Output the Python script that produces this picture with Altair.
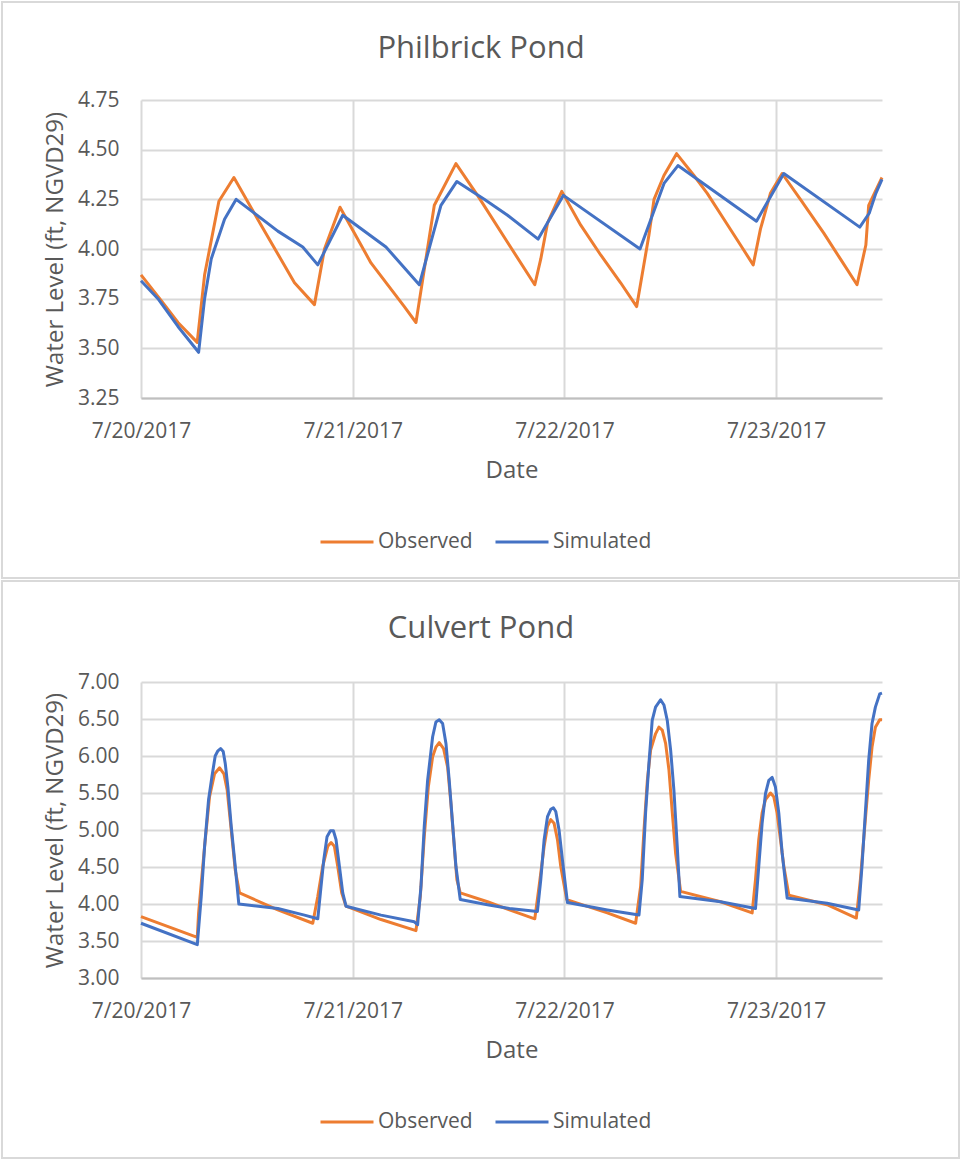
import altair as alt
import pandas as pd

START = pd.Timestamp("2017-07-20 00:00")
SERIES = ["Observed", "Simulated"]
COLORS = ["#ED7D31", "#4472C4"]
GREY_TEXT = "#595959"
FONT = "Open Sans"

# ---- Philbrick Pond: hours after 7/20/2017 00:00 and water level (ft) ----
phil_obs_h = [0.0, 2.30, 4.19, 6.37, 7.21, 8.83, 10.53, 13.62, 17.40, 19.66,
              20.80, 22.56, 26.07, 29.85, 31.17, 33.25, 35.70, 38.15, 41.60,
              44.64, 45.32, 46.08, 47.70, 49.85, 52.11, 54.37, 56.19, 57.58,
              58.16, 59.28, 60.71, 62.68, 64.19, 66.08, 67.96, 69.40, 70.22,
              71.35, 72.68, 74.75, 77.40, 79.28, 81.17, 82.17, 82.49, 84.0]
phil_obs_v = [3.87, 3.74, 3.63, 3.53, 3.87, 4.24, 4.36, 4.12, 3.83, 3.72,
              4.00, 4.21, 3.93, 3.71, 3.63, 4.22, 4.43, 4.27, 4.03,
              3.82, 3.95, 4.13, 4.29, 4.12, 3.97, 3.83, 3.71, 4.07,
              4.25, 4.37, 4.48, 4.37, 4.28, 4.15, 4.02, 3.92, 4.10,
              4.28, 4.38, 4.25, 4.08, 3.95, 3.82, 4.02, 4.22, 4.36]

phil_sim_h = [0.0, 1.92, 4.19, 6.53, 7.21, 7.96, 9.47, 10.79, 15.51, 18.34,
              20.04, 22.87, 27.77, 31.55, 34.00, 35.81, 38.91, 41.55, 45.02,
              47.89, 56.57, 59.29, 60.87, 69.77, 72.87, 81.48, 82.55, 83.30, 84.0]
phil_sim_v = [3.84, 3.75, 3.61, 3.48, 3.75, 3.95, 4.15, 4.25, 4.09, 4.01,
              3.92, 4.17, 4.01, 3.82, 4.22, 4.34, 4.25, 4.17, 4.05,
              4.27, 4.00, 4.33, 4.42, 4.14, 4.38, 4.11, 4.18, 4.28, 4.35]

# ---- Culvert Pond ----
culv_obs_h = [0.0, 6.38, 6.53, 7.21, 7.77, 8.34, 8.91, 9.40, 9.77, 10.23,
              10.68, 11.17, 15.51, 19.47, 20.04, 20.60, 21.17, 21.55, 21.92,
              22.30, 22.75, 23.24, 27.21, 31.17, 31.66, 32.11, 32.57, 33.06,
              33.43, 33.81, 34.30, 34.76, 35.13, 35.51, 35.81, 36.19, 39.28,
              41.77, 44.64, 45.13, 45.70, 46.08, 46.45, 46.83, 47.21, 47.58,
              48.26, 52.86, 56.07, 56.64, 57.02, 57.40, 57.77, 58.33, 58.71,
              59.09, 59.47, 59.85, 60.23, 60.60, 61.17, 65.70, 69.28, 69.66,
              70.03, 70.41, 70.79, 71.36, 71.73, 72.11, 72.49, 72.87, 73.44,
              77.77, 81.09, 81.55, 82.11, 82.49, 82.87, 83.25, 83.74, 84.0]
culv_obs_v = [3.83, 3.55, 3.88, 4.78, 5.45, 5.76, 5.84, 5.76, 5.54, 5.00,
              4.46, 4.15, 3.92, 3.74, 4.10, 4.51, 4.78, 4.83, 4.78,
              4.51, 4.15, 3.97, 3.79, 3.64, 4.10, 4.91, 5.58, 5.99,
              6.12, 6.18, 6.10, 5.85, 5.36, 4.78, 4.33, 4.15, 4.03,
              3.92, 3.80, 4.24, 4.78, 5.05, 5.14, 5.09, 4.87, 4.51,
              4.06, 3.88, 3.74, 4.24, 5.00, 5.67, 6.08, 6.30, 6.39,
              6.35, 6.17, 5.81, 5.23, 4.69, 4.17, 4.03, 3.88, 4.33,
              4.87, 5.23, 5.41, 5.50, 5.45, 5.23, 4.87, 4.51, 4.12,
              3.99, 3.81, 4.33, 5.14, 5.67, 6.12, 6.39, 6.49, 6.49]

culv_sim_h = [0.0, 6.38, 6.83, 7.21, 7.66, 8.04, 8.41, 8.72, 9.02, 9.32,
              9.55, 9.85, 10.23, 10.68, 11.09, 15.51, 18.53, 20.04, 20.41,
              20.72, 21.09, 21.47, 21.81, 22.11, 22.49, 22.87, 23.24, 27.21,
              30.98, 31.36, 31.74, 32.11, 32.49, 33.06, 33.43, 33.81, 34.19,
              34.57, 34.94, 35.32, 35.70, 36.19, 39.28, 41.77, 44.94, 45.32,
              45.70, 46.08, 46.45, 46.75, 47.02, 47.39, 47.77, 48.34, 52.86,
              56.45, 56.82, 57.20, 57.58, 57.95, 58.33, 58.90, 59.28, 59.66,
              60.04, 60.41, 60.79, 61.09, 65.70, 69.66, 70.03, 70.41, 70.79,
              71.17, 71.55, 71.92, 72.30, 72.68, 73.25, 77.77, 81.36, 81.73,
              82.11, 82.49, 82.87, 83.25, 83.74, 84.0]
culv_sim_v = [3.74, 3.45, 4.10, 4.78, 5.41, 5.72, 6.00, 6.07, 6.10, 6.06,
              5.90, 5.58, 5.05, 4.51, 4.00, 3.94, 3.85, 3.80, 4.24,
              4.60, 4.91, 4.99, 4.99, 4.87, 4.51, 4.15, 3.97, 3.85,
              3.76, 3.72, 4.24, 5.05, 5.67, 6.26, 6.46, 6.49, 6.44,
              6.17, 5.67, 5.09, 4.51, 4.06, 3.99, 3.94, 3.90, 4.33,
              4.87, 5.18, 5.28, 5.30, 5.25, 5.00, 4.60, 4.02, 3.92,
              3.85, 4.33, 5.23, 5.90, 6.48, 6.66, 6.76, 6.69, 6.48,
              6.08, 5.54, 4.78, 4.10, 4.03, 3.94, 4.51, 5.09, 5.49,
              5.67, 5.71, 5.58, 5.23, 4.69, 4.08, 4.01, 3.92, 4.51,
              5.23, 5.94, 6.44, 6.66, 6.84, 6.85]

phil_ticks = [3.25, 3.50, 3.75, 4.00, 4.25, 4.50, 4.75]
culv_ticks = [3.00, 3.50, 4.00, 4.50, 5.00, 5.50, 6.00, 6.50, 7.00]
day_ticks = [20, 21, 22, 23]


def series_frame(hours, levels, name):
    return pd.DataFrame({
        "time": START + pd.to_timedelta(hours, unit="h"),
        "level": levels,
        "series": name,
    })


def panel(title, obs_h, obs_v, sim_h, sim_v, ticks, plot_h, frame_top, frame_bottom, title_y, legend_y):
    data = pd.concat([series_frame(obs_h, obs_v, SERIES[0]),
                      series_frame(sim_h, sim_v, SERIES[1])], ignore_index=True)

    x = alt.X(
        "time:T",
        title="Date",
        scale=alt.Scale(domain=[alt.DateTime(year=2017, month=7, date=20),
                                alt.DateTime(year=2017, month=7, date=23, hours=12)],
                        nice=False),
        axis=alt.Axis(values=[alt.DateTime(year=2017, month=7, date=d) for d in day_ticks],
                      format="%-m/%-d/%Y", labelFlush=False, labelAngle=0,
                      labelOverlap=False),
    )
    y = alt.Y(
        "level:Q",
        title="Water Level (ft, NGVD29)",
        scale=alt.Scale(domain=[ticks[0], ticks[-1]], nice=False, zero=False),
        axis=alt.Axis(values=ticks, format=".2f", domain=False),
    )
    color = alt.Color(
        "series:N",
        scale=alt.Scale(domain=SERIES, range=COLORS),
        legend=alt.Legend(title=None, orient="none", legendX=178, legendY=legend_y,
                          direction="horizontal", symbolType="stroke", symbolSize=2809,
                          symbolStrokeWidth=3, labelOffset=3, columnPadding=16,
                          padding=0),
    )

    lines = alt.Chart(data).mark_line(strokeWidth=3, strokeJoin="round").encode(
        x=x, y=y, color=color, order="time:T")

    one = pd.DataFrame({"label": [title]})
    border = alt.Chart(one).mark_rect(fillOpacity=0, stroke="#d9d9d9", strokeWidth=2).encode(
        x=alt.value(-139), x2=alt.value(818), y=alt.value(frame_top), y2=alt.value(frame_bottom))
    heading = alt.Chart(one).mark_text(fontSize=31, font=FONT, color=GREY_TEXT,
                                       align="center", baseline="alphabetic").encode(
        text="label:N", x=alt.value(340), y=alt.value(title_y))

    return alt.layer(border, lines, heading).properties(width=741, height=plot_h)


top = panel("Philbrick Pond", phil_obs_h, phil_obs_v, phil_sim_h, phil_sim_v,
            phil_ticks, 298, -98, 478, -42, 414)
bottom = panel("Culvert Pond", culv_obs_h, culv_obs_v, culv_sim_h, culv_sim_v,
               culv_ticks, 296, -101, 476, -44, 412)

chart = alt.vconcat(top, bottom, spacing=1).resolve_scale(color="independent").properties(
    padding={"left": 1, "top": 1, "right": 0, "bottom": 0}
).configure(
    font=FONT,
    background="white",
).configure_view(
    stroke=None,
).configure_axis(
    grid=True,
    gridColor="#d9d9d9",
    gridWidth=2,
    ticks=False,
    labelFont=FONT,
    labelFontSize=21,
    labelColor=GREY_TEXT,
    labelPadding=22,
    titleFont=FONT,
    titleFontSize=24,
    titleFontWeight="normal",
    titleColor=GREY_TEXT,
).configure_axisX(
    domainColor="#bfbfbf",
    domainWidth=2,
    titlePadding=17,
).configure_axisY(
    titlePadding=10,
).configure_legend(
    labelFont=FONT,
    labelFontSize=21,
    labelColor=GREY_TEXT,
)

chart.save("out.html", embed_options={"renderer": "svg", "actions": False})
